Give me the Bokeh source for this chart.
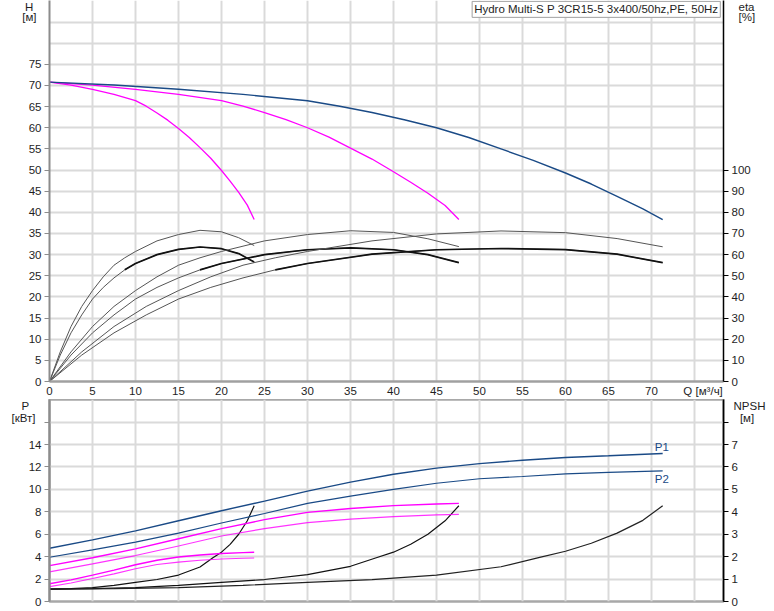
from bokeh.plotting import figure
from bokeh.layouts import column
from bokeh.models import Range1d, LinearAxis, FixedTicker, Label
from bokeh.embed import file_html
from bokeh.resources import INLINE

# ---------------- data ----------------
# Head curves H [m] for 1, 2 and 3 pumps
q_h1 = [0, 2.5, 5, 7.5, 10, 11.25, 12.5, 13.75, 15, 16.25, 17.5, 18.75, 20, 21, 22, 23, 23.8]
h_1 = [70.8, 70.1, 69.1, 67.9, 66.4, 65.1, 63.5, 61.8, 59.8, 57.7, 55.3, 52.8, 49.9, 47.4, 44.7, 41.7, 38.3]
q_h2 = [0, 5, 10, 15, 20, 22.5, 25, 27.5, 30, 32.5, 35, 37.5, 40, 42, 44, 46, 47.6]
h_2 = [70.8, 70.1, 69.1, 67.9, 66.4, 65.1, 63.6, 61.9, 60.0, 57.8, 55.2, 52.6, 49.6, 47.1, 44.5, 41.6, 38.3]
q_h3 = [0, 7.5, 15, 22.5, 30, 33.75, 37.5, 41.25, 45, 48.75, 52.5, 56.25, 60, 63, 66, 69, 71.3]
h_3 = [70.8, 70.1, 69.1, 67.9, 66.4, 65.1, 63.6, 61.9, 60.0, 57.7, 55.0, 52.3, 49.3, 46.7, 43.8, 40.8, 38.3]

# Efficiency curves eta [%]: pump (thin) and total (bold)
q_e1 = [0, 1.25, 2.5, 3.75, 5, 6.25, 7.5, 8.75, 10, 12.5, 15, 17.5, 20, 22, 23.8]
eta_p_1 = [0, 14, 26, 35.5, 43, 49.5, 55, 58.5, 61.5, 66.5, 69.5, 71.5, 70.8, 68, 64.3]
eta_t_1 = [0, 12.5, 23, 31.5, 39, 44.5, 49, 52.8, 55.8, 60, 62.5, 63.6, 62.8, 60.5, 56.5]
q_e2 = [0, 2.5, 5, 7.5, 10, 12.5, 15, 17.5, 20, 25, 30, 35, 40, 44, 47.6]
eta_p_2 = [0, 14, 26, 35.5, 43, 49.5, 55, 58.5, 61.5, 66.5, 69.5, 71.3, 70.5, 67.5, 63.8]
eta_t_2 = [0, 12.5, 23, 31.5, 39, 44.5, 49, 52.8, 55.8, 60, 62.3, 63.2, 62.3, 60, 56.2]
q_e3 = [0, 3.75, 7.5, 11.25, 15, 18.75, 22.5, 26.25, 30, 37.5, 45, 52.5, 60, 66, 71.3]
eta_p_3 = [0, 14, 26, 35.5, 43, 49.5, 55, 58.5, 61.5, 66.5, 69.8, 71.2, 70.4, 67.6, 63.7]
eta_t_3 = [0, 12.5, 23, 31.5, 39, 44.5, 49, 52.8, 55.8, 60.2, 62.3, 62.9, 62.4, 60.2, 56.2]

# Power curves P1 / P2 [kW]
q_p3 = [0, 5, 10, 15, 20, 25, 30, 35, 40, 45, 50, 55, 60, 65, 71.3]
p1_3 = [4.75, 5.5, 6.3, 7.2, 8.1, 8.95, 9.85, 10.65, 11.35, 11.9, 12.3, 12.6, 12.85, 13.0, 13.2]
p2_3 = [3.95, 4.6, 5.3, 6.1, 7.0, 7.85, 8.75, 9.4, 10.0, 10.55, 10.95, 11.15, 11.38, 11.52, 11.65]
q_p2 = [0, 5, 10, 15, 20, 25, 30, 35, 40, 45, 47.6]
p1_2 = [3.2, 3.9, 4.7, 5.6, 6.5, 7.3, 7.95, 8.3, 8.55, 8.7, 8.75]
p2_2 = [2.64, 3.35, 4.1, 4.95, 5.84, 6.5, 7.04, 7.35, 7.58, 7.72, 7.78]
q_p1 = [0, 2.5, 5, 7.5, 10, 12.5, 15, 17.5, 20, 22.5, 23.8]
p1_1 = [1.58, 1.93, 2.35, 2.8, 3.28, 3.68, 3.97, 4.15, 4.28, 4.36, 4.4]
p2_1 = [1.32, 1.65, 2.05, 2.47, 2.92, 3.3, 3.52, 3.68, 3.79, 3.86, 3.88]

# NPSH curves [m]
q_n1 = [0, 2.5, 5, 7.5, 10, 12.5, 15, 17.5, 19, 20, 21, 22, 23, 23.8]
npsh_1 = [0.55, 0.57, 0.62, 0.72, 0.85, 0.98, 1.18, 1.54, 1.95, 2.2, 2.55, 3.0, 3.6, 4.27]
q_n2 = [0, 5, 10, 15, 20, 25, 30, 35, 38, 40, 42, 44, 46, 47.6]
npsh_2 = [0.55, 0.57, 0.62, 0.72, 0.85, 0.98, 1.2, 1.57, 1.95, 2.2, 2.55, 3.0, 3.6, 4.27]
q_n3 = [0, 7.5, 15, 22.5, 30, 37.5, 45, 52.5, 57, 60, 63, 66, 69, 71.3]
npsh_3 = [0.55, 0.57, 0.62, 0.72, 0.85, 0.98, 1.18, 1.55, 1.97, 2.24, 2.6, 3.05, 3.62, 4.27]

# Ticks and texts
q_ticks = list(range(0, 75, 5))
q_grid = list(range(0, 80, 5))
h_ticks = list(range(0, 80, 5))
h_grid = list(range(0, 90, 5))
eta_ticks = list(range(0, 110, 10))
p_ticks = list(range(0, 18, 2))
npsh_ticks = list(range(0, 9, 1))

title_text = "Hydro Multi-S P 3CR15-5 3x400/50hz,PE, 50Hz"
q_label = "Q [м³/ч]"
h_label = ["H", "[м]"]
eta_label = ["eta", "[%]"]
p_label = ["P", "[кВт]"]
npsh_label = ["NPSH", "[м]"]

# ---------------- styling ----------------
FONT = "Liberation Sans"
FS = "11.5px"
BLUE = "#1a4a86"
MAG = "#ff00ff"
GRID = "#dadada"
GRAYAX = "#8c8c8c"
TXT = "#1e1e1e"
NB = "\u00a0"

W = 774
Q_MAX = 674 / 8.6
Q_LABEL_POS = 76


def style_axis(ax, color, width):
    ax.axis_line_color = color
    ax.axis_line_width = width
    ax.major_tick_line_color = color
    ax.major_tick_out = 5
    ax.major_tick_in = 0
    ax.minor_tick_out = 0
    ax.minor_tick_in = 0
    ax.major_label_standoff = 3
    ax.major_label_text_font = FONT
    ax.major_label_text_font_size = FS
    ax.major_label_text_color = TXT


def label_axis(range_name, ticks, texts, standoff):
    """Axis without line or ticks that only carries the unit captions."""
    ax = LinearAxis(y_range_name=range_name, ticker=FixedTicker(ticks=ticks),
                    major_label_overrides=dict(zip(ticks, texts)))
    ax.axis_line_color = None
    ax.major_tick_line_color = None
    ax.minor_tick_line_color = None
    ax.major_tick_out = 0
    ax.major_tick_in = 0
    ax.minor_tick_out = 0
    ax.minor_tick_in = 0
    ax.major_label_standoff = standoff
    ax.major_label_text_font = FONT
    ax.major_label_text_font_size = FS
    ax.major_label_text_color = TXT
    return ax


# ---------------- top figure ----------------
TOP_FRAME = 382
p1 = figure(width=W, height=399, output_backend="svg", toolbar_location=None,
            x_range=Range1d(0, Q_MAX), y_range=Range1d(0, TOP_FRAME / 4.24),
            min_border_left=49, min_border_right=51, min_border_top=0, min_border_bottom=17)
p1.extra_y_ranges = {"eta": Range1d(0, 2 * TOP_FRAME / 4.24),
                     "px": Range1d(TOP_FRAME, 0)}
p1.outline_line_color = None

p1.xgrid.ticker = FixedTicker(ticks=q_grid)
p1.ygrid.ticker = FixedTicker(ticks=h_grid)
for g in (p1.xgrid, p1.ygrid):
    g.grid_line_color = GRID
    g.grid_line_width = 2

xa = p1.xaxis[0]
style_axis(xa, "#a0a0a0", 2.5)
xa.ticker = FixedTicker(ticks=q_ticks + [Q_LABEL_POS])
xa.major_label_overrides = {Q_LABEL_POS: q_label}
xa.major_tick_out = 0

ya = p1.yaxis[0]
style_axis(ya, GRAYAX, 2)
ya.ticker = FixedTicker(ticks=h_ticks)

ra = LinearAxis(y_range_name="eta", ticker=FixedTicker(ticks=eta_ticks))
style_axis(ra, "black", 1.5)
p1.add_layout(ra, "right")

p1.add_layout(label_axis("px", [6, 17], [h_label[0] + NB, h_label[1]], -11), "left")
p1.add_layout(label_axis("px", [6, 17], eta_label, -15), "right")

# efficiency curves
for q, ep, et in ((q_e1, eta_p_1, eta_t_1), (q_e2, eta_p_2, eta_t_2), (q_e3, eta_p_3, eta_t_3)):
    p1.line(q, ep, y_range_name="eta", line_color="#555555", line_width=1)
    p1.line(q, et, y_range_name="eta", line_color="#555555", line_width=1)
    p1.line(q[7:], et[7:], y_range_name="eta", line_color="#111111", line_width=1.7)

# head curves
p1.line(q_h1, h_1, line_color=MAG, line_width=1.3)
p1.line(q_h2, h_2, line_color=MAG, line_width=1.3)
p1.line(q_h3, h_3, line_color=BLUE, line_width=1.4)

p1.add_layout(Label(x=78.0, y=88.0, text=title_text, text_align="right", text_baseline="middle",
                    text_font=FONT, text_font_size=FS, text_color=TXT,
                    background_fill_color="white", border_line_color="#a0a0a0",
                    padding=2))

# ---------------- bottom figure ----------------
P_SCALE = 11.21
BOT_FRAME = 202
BOT_TOP = 399
p2 = figure(width=W, height=210, output_backend="svg", toolbar_location=None,
            x_range=p1.x_range, y_range=Range1d(0, BOT_FRAME / P_SCALE),
            min_border_left=49, min_border_right=51, min_border_top=0, min_border_bottom=8)
p2.extra_y_ranges = {"npsh": Range1d(0, BOT_FRAME / P_SCALE / 2),
                     "px": Range1d(BOT_TOP + BOT_FRAME, BOT_TOP)}
p2.outline_line_color = "#a8a8a8"
p2.outline_line_width = 2.5
p2.xaxis.visible = False

p2.xgrid.ticker = FixedTicker(ticks=q_grid)
p2.ygrid.ticker = FixedTicker(ticks=p_ticks)
for g in (p2.xgrid, p2.ygrid):
    g.grid_line_color = GRID
    g.grid_line_width = 2

ya2 = p2.yaxis[0]
style_axis(ya2, GRAYAX, 2)
ya2.ticker = FixedTicker(ticks=p_ticks)
ya2.major_label_overrides = {16: ""}

ra2 = LinearAxis(y_range_name="npsh", ticker=FixedTicker(ticks=npsh_ticks))
style_axis(ra2, "black", 1.5)
ra2.major_label_overrides = {8: ""}
p2.add_layout(ra2, "right")

p2.add_layout(label_axis("px", [405, 417], [p_label[0] + NB * 2, p_label[1]], -10), "left")
p2.add_layout(label_axis("px", [405, 417], [npsh_label[0], NB * 2 + npsh_label[1]], -7), "right")

# NPSH curves
p2.line(q_n1, npsh_1, y_range_name="npsh", line_color="#111111", line_width=1.2)
p2.line(q_n2, npsh_2, y_range_name="npsh", line_color="#111111", line_width=1.2)
p2.line(q_n3, npsh_3, y_range_name="npsh", line_color="#222222", line_width=1.2)

# power curves
p2.line(q_p1, p1_1, line_color=MAG, line_width=1.4)
p2.line(q_p1, p2_1, line_color=MAG, line_width=1.2, line_alpha=0.8)
p2.line(q_p2, p1_2, line_color=MAG, line_width=1.4)
p2.line(q_p2, p2_2, line_color=MAG, line_width=1.2, line_alpha=0.8)
p2.line(q_p3, p1_3, line_color=BLUE, line_width=1.4)
p2.line(q_p3, p2_3, line_color=BLUE, line_width=1.2)

for txt, yv in (("P1", 13.74), ("P2", 10.97)):
    p2.add_layout(Label(x=71.2, y=yv, text=txt, text_align="center", text_baseline="middle",
                        text_font=FONT, text_font_size=FS, text_color=BLUE))

layout = column(p1, p2)

open("out.html", "w").write(file_html(layout, INLINE))
